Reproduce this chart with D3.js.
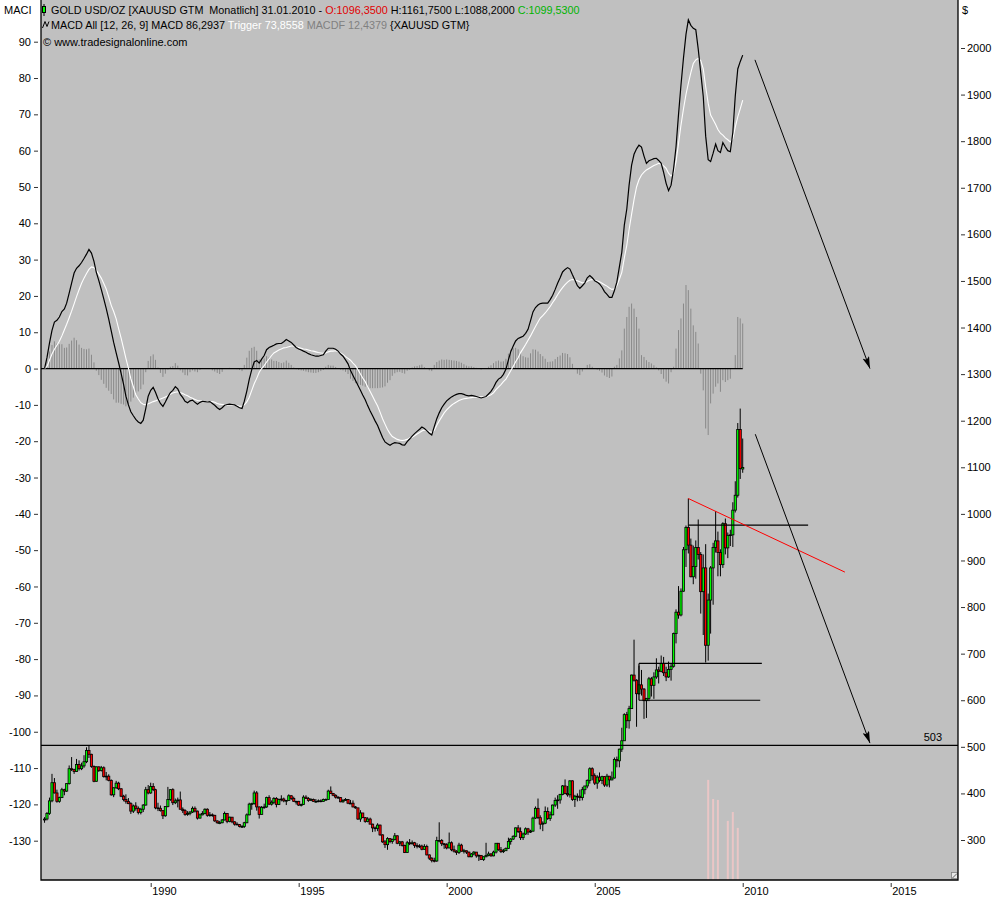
<!DOCTYPE html>
<html>
<head>
<style>
  body { margin: 0; background: #fff; }
  svg text { font-family: "Liberation Sans", Arial, sans-serif; font-size: 11px; fill: #000; }
  .legend text { font-size: 10.8px; }
</style>
</head>
<body>
<script src="https://d3js.org/d3.v7.min.js"></script>
<script>
// monthly candles, Jun 1986 .. Jan 2010 (one row per year)
const open = [
  343,345,357,384,423,401,383,
  391,408,405,421,453,451,447,462,453,459,468,492,
  484,458,426,457,449,455,436,437,428,397,412,422,
  410,394,387,383,378,362,373,368,359,366,375,408,
  401,415,408,369,368,363,352,372,387,408,380,384,
  386,366,363,355,357,360,368,362,347,354,357,366,
  353,354,353,341,337,337,343,357,340,349,339,334,
  333,329,329,337,354,377,378,401,371,355,370,371,
  391,377,381,389,376,387,388,384,385,395,389,383,
  383,375,376,392,389,385,387,383,383,384,383,387,
  387,405,400,396,392,391,382,385,387,379,379,371,
  369,345,358,348,340,345,334,326,325,332,311,296,
  290,303,297,301,309,293,296,288,273,294,292,294,
  288,287,287,280,286,268,261,256,255,299,299,292,
  290,283,294,279,276,273,289,276,277,274,264,270,
  274,266,267,258,264,267,270,266,274,293,279,275,
  277,282,297,302,308,326,318,305,313,324,317,319,
  347,368,348,334,336,361,346,354,375,385,386,398,
  416,400,397,427,387,394,394,391,408,416,428,453,
  438,422,435,428,436,418,437,429,433,473,470,495,
  513,569,556,582,654,643,614,633,624,599,604,646,
  632,650,665,662,679,659,650,666,673,743,789,783,
  834,923,971,933,865,887,928,913,833,884,718,815,
  884,928,942,917,891,979,927,954,955,1008,1040,1181,
  1096.35
];
const high = [
  349,360,391,442,433,408,393,
  412,410,422,460,478,453,474,471,466,482,499,502,
  485,460,458,458,459,458,446,441,430,413,427,425,
  411,397,398,390,381,376,381,372,369,377,414,418,
  423,422,410,380,374,364,373,414,409,411,389,391,
  404,370,366,362,362,372,372,363,357,362,368,368,
  360,357,354,342,341,345,361,358,350,349,340,338,
  334,332,339,357,380,380,406,405,372,373,378,393,
  396,385,392,392,389,396,391,386,398,396,393,384,
  384,378,396,396,392,390,389,388,387,387,389,389,
  408,415,401,398,394,392,388,390,388,386,385,373,
  369,364,358,349,349,348,335,329,336,333,312,300,
  306,304,303,315,310,298,298,290,298,302,299,296,
  293,291,290,291,290,269,263,262,307,338,302,293,
  293,316,297,288,278,294,292,281,277,275,272,276,
  274,269,267,265,294,275,272,277,293,293,285,281,
  284,305,304,310,327,332,327,316,327,326,322,350,
  372,389,353,340,372,370,361,376,391,396,399,418,
  430,416,428,428,397,400,408,414,416,430,456,456,
  443,439,445,438,437,442,437,447,477,479,496,541,
  572,575,588,655,730,645,674,665,626,605,650,650,
  660,690,672,696,693,672,683,678,745,795,845,840,
  929,975,1033,947,932,943,988,918,913,935,829,888,
  938,1006,962,924,982,990,960,966,1025,1070,1195,1226,
  1161.75
];
const low = [
  337,342,354,381,400,380,380,
  390,396,403,419,448,442,446,449,450,455,465,476,
  455,424,425,446,447,434,428,426,395,392,410,407,
  392,383,378,377,356,358,363,355,355,360,374,398,
  399,405,366,362,361,345,350,370,384,375,377,370,
  366,358,352,352,353,358,359,344,346,353,355,350,
  350,350,339,335,334,336,342,336,338,336,331,332,
  327,326,326,336,353,365,376,363,346,354,367,369,
  375,374,377,370,375,383,381,375,384,386,382,376,
  373,372,375,388,382,384,382,380,381,381,382,385,
  387,399,394,389,388,381,380,384,377,378,370,367,
  343,339,347,337,338,334,317,318,319,309,294,283,
  279,293,292,299,291,287,286,272,272,289,290,283,
  282,283,278,279,267,257,252,252,253,295,287,281,
  280,282,276,273,268,270,275,271,270,263,263,267,
  262,255,257,255,263,265,264,265,271,277,272,272,
  277,281,290,300,306,315,300,300,311,311,315,318,
  345,345,323,319,334,343,341,353,371,367,378,396,
  398,393,391,384,371,383,384,385,398,411,421,428,
  418,410,424,420,414,414,413,428,432,456,456,489,
  513,540,539,582,640,543,612,610,560,562,598,608,
  603,646,636,660,652,641,648,642,670,722,775,780,
  833,886,915,864,849,861,902,786,740,681,685,743,
  805,917,866,866,884,913,905,931,929,1003,1035,1075,
  1088.2
];
const close = [
  345,357,384,423,401,383,391,
  408,405,421,453,451,447,462,453,459,468,492,484,
  458,426,457,449,455,436,437,428,397,412,422,410,
  394,387,383,378,362,373,368,359,366,375,408,401,
  415,408,369,368,363,352,372,387,408,380,384,386,
  366,363,355,357,360,368,362,347,354,357,366,353,
  354,353,341,337,337,343,357,340,349,339,334,333,
  329,329,337,354,377,378,401,371,355,370,371,391,
  377,381,389,376,387,388,384,385,395,389,383,383,
  375,376,392,389,385,387,383,383,384,383,387,387,
  405,400,396,392,391,382,385,387,379,379,371,369,
  345,358,348,340,345,334,326,325,332,311,296,290,
  303,297,301,309,293,296,288,273,294,292,294,288,
  287,287,280,286,268,261,256,255,299,299,292,290,
  283,294,279,276,273,289,276,277,274,264,270,274,
  266,267,258,264,267,270,266,274,293,279,275,277,
  282,297,302,308,326,318,305,313,324,317,319,347,
  368,348,334,336,361,346,354,375,385,386,398,416,
  400,397,427,387,394,394,391,408,416,428,453,438,
  422,435,428,436,418,437,429,433,473,470,495,513,
  569,556,582,654,643,614,633,624,599,604,646,632,
  650,665,662,679,659,650,666,673,743,789,783,834,
  923,971,933,865,887,928,913,833,884,718,815,884,
  928,942,917,891,979,927,954,955,1008,1040,1181,1097,
  1099.53
];

// MACD [12, 26, 9]
const macd = [
  0,3,7,10.5,12.8,13.3,14.2,
  15.7,16.4,18.0,20.8,23.5,26.3,27.6,28.3,29.2,30.3,31.5,32.8,
  31.8,29.5,26.5,24.2,21.8,19.2,16.6,13.6,10.4,7.2,4.3,1.6,
  -1.3,-4.4,-7.6,-10.0,-11.9,-13.0,-14.0,-14.7,-15.1,-14.2,-11.0,-7.6,
  -6.0,-5.2,-6.5,-8.3,-9.6,-10.4,-9.2,-7.8,-6.6,-6.0,-5.0,-5.6,
  -7.1,-8.0,-9.0,-9.4,-8.9,-8.7,-9.3,-9.8,-9.3,-9.0,-9.1,-9.2,
  -9.1,-9.6,-10.1,-10.8,-11.3,-10.8,-10.1,-9.9,-9.8,-9.9,-10.0,-10.4,
  -10.8,-11.0,-9.0,-6.2,-3.0,-0.3,1.8,2.2,1.5,2.6,3.6,5.2,
  5.8,6.1,6.4,6.8,6.9,6.9,7.4,8.0,7.6,7.2,6.5,5.8,
  5.4,5.1,4.8,4.5,4.1,3.8,3.6,3.4,3.4,3.6,3.8,4.8,
  5.6,5.6,5.6,5.3,4.8,4.0,3.4,2.4,1.3,-0.5,-1.9,-3.2,
  -4.6,-6.0,-7.3,-8.6,-10.2,-11.7,-13.0,-14.4,-15.7,-17.3,-19.0,-20.2,
  -20.7,-21.1,-20.7,-20.4,-20.5,-20.6,-21.0,-21.1,-20.1,-19.4,-18.6,-17.9,
  -17.3,-16.7,-16.1,-16.5,-17.1,-17.8,-18.3,-16.0,-13.8,-12.2,-10.8,-9.8,
  -8.9,-8.3,-7.8,-7.4,-7.1,-6.9,-6.9,-7.1,-7.4,-7.5,-7.4,-7.5,
  -7.7,-7.9,-8.1,-7.9,-7.7,-7.0,-6.3,-5.2,-3.8,-2.9,-2.5,-1.6,
  -0.2,2.4,4.6,6.2,7.6,8.3,8.6,8.9,9.7,10.8,13.2,15.6,
  16.8,17.5,17.9,18.0,18.0,18.0,19.0,20.2,21.8,23.5,25.0,26.6,
  27.3,27.8,27.4,25.8,24.4,22.8,22.1,22.8,23.6,25.0,25.6,25.0,
  24.2,23.8,23.3,22.4,21.2,20.4,19.6,19.6,21.5,23.8,28.0,32.0,
  39.5,44.0,50.5,56.0,59.0,60.5,61.5,61.0,58.5,56.5,57.2,57.5,
  57.8,57.9,57.3,56.5,54.0,51.0,49.0,50.5,55.0,61.0,70.0,78.0,
  85.5,92.0,96.0,94.5,93.7,93.3,88.0,81.5,75.0,64.0,57.5,57.0,
  59.3,61.8,60.0,59.5,62.2,61.0,60.0,59.7,65.0,75.0,82.5,84.5,
  86.3
];
const trigger = [
  0,0.6,2.3,4.0,5.3,6.4,7.5,
  9.0,10.7,12.2,14.0,15.8,17.8,19.8,21.7,23.5,24.9,26.2,27.3,
  28.0,27.8,27.1,26.0,24.9,23.4,21.9,19.7,17.4,15.7,13.7,11.0,
  8.4,5.5,2.8,0.1,-2.8,-5.0,-7.2,-8.4,-9.4,-9.8,-10.0,-9.7,
  -9.4,-9.1,-8.9,-8.6,-8.4,-8.1,-7.8,-7.5,-7.1,-6.7,-6.5,-6.4,
  -6.6,-6.9,-7.2,-7.5,-7.9,-8.2,-8.5,-8.8,-8.9,-9.0,-9.1,-9.1,
  -9.1,-9.1,-9.3,-9.6,-9.8,-9.9,-10.0,-10.0,-10.0,-10.0,-10.1,-10.2,
  -10.4,-10.3,-10.0,-9.2,-7.9,-6.0,-4.2,-2.7,-1.0,0.0,0.8,1.8,
  2.7,3.6,4.3,4.7,5.1,5.4,5.7,5.8,6.0,6.2,6.2,6.0,
  5.8,5.6,5.4,5.3,5.1,4.9,4.8,4.6,4.4,4.3,4.2,4.3,
  4.6,4.8,4.8,4.9,4.7,4.3,3.9,3.3,2.8,2.3,1.5,0.8,
  -0.3,-1.5,-2.6,-3.6,-5.0,-6.3,-7.6,-9.0,-10.3,-12.0,-13.8,-15.3,
  -16.8,-17.9,-18.7,-19.1,-19.5,-19.7,-19.8,-19.7,-19.5,-19.1,-18.9,-18.5,
  -18.0,-17.6,-17.2,-16.9,-17.0,-17.3,-17.6,-17.0,-15.6,-14.4,-13.3,-12.2,
  -11.4,-10.7,-10.1,-9.6,-9.2,-8.8,-8.5,-8.3,-8.2,-8.1,-8.0,-7.9,
  -7.9,-7.8,-7.8,-7.8,-7.8,-7.5,-7.2,-6.7,-5.8,-5.1,-4.4,-3.6,
  -2.9,-1.7,-0.6,0.6,1.9,3.0,4.4,5.5,6.6,7.8,9.0,10.3,
  11.6,12.8,13.9,14.6,15.3,16.2,17.1,18.2,19.2,20.3,21.4,22.3,
  23.1,23.8,24.3,24.5,24.4,24.2,23.9,23.6,23.6,24.0,24.4,24.5,
  24.3,24.1,23.9,23.5,23.1,22.7,22.2,21.8,22.0,22.8,24.6,26.5,
  30.5,34.0,38.3,42.5,46.5,50.0,52.0,53.3,54.1,54.7,55.1,55.5,
  55.9,56.2,56.5,56.3,55.8,55.1,53.8,53.0,53.8,57.0,62.0,67.0,
  71.5,75.5,78.5,81.5,84.0,85.0,85.4,84.8,82.5,77.6,73.0,69.8,
  68.5,67.2,65.8,64.8,64.3,63.5,63.0,62.4,63.3,66.5,69.3,71.5,
  73.9
];
const macdf = [
  0,2.4,4.7,6.5,7.5,6.9,6.7,
  6.7,5.7,5.8,6.8,7.7,8.5,7.8,6.6,5.7,5.4,5.3,5.5,
  3.8,1.7,-0.6,-1.8,-3.1,-4.2,-5.3,-6.1,-7.0,-8.5,-9.4,-9.4,
  -9.7,-9.9,-10.4,-10.1,-9.1,-8.0,-6.8,-6.3,-5.7,-4.4,-1.0,2.1,
  3.4,3.9,2.4,0.3,-1.2,-2.3,-1.4,-0.3,0.5,0.7,1.5,0.8,
  -0.5,-1.1,-1.8,-1.9,-1.0,-0.5,-0.8,-1.0,-0.4,0,0,-0.1,
  0,-0.5,-0.8,-1.2,-1.5,-0.9,-0.1,0.1,0.2,0.1,0.1,-0.2,
  -0.4,-0.7,1.0,3.0,4.9,5.7,6.0,4.9,2.5,2.6,2.8,3.4,
  3.1,2.5,2.1,2.1,1.8,1.5,1.7,2.2,1.6,1.0,0.3,-0.2,
  -0.4,-0.5,-0.6,-0.8,-1.0,-1.1,-1.2,-1.2,-1.0,-0.7,-0.4,0.5,
  1.0,0.8,0.8,0.4,0.1,-0.3,-0.5,-0.9,-1.5,-2.8,-3.4,-4.0,
  -4.3,-4.5,-4.7,-5.0,-5.2,-5.4,-5.4,-5.4,-5.4,-5.3,-5.2,-4.9,
  -3.9,-3.2,-2.0,-1.3,-1.0,-0.9,-1.2,-1.4,-0.6,-0.3,0.3,0.6,
  0.7,0.9,1.1,0.4,-0.1,-0.5,-0.7,1.0,1.8,2.2,2.5,2.4,
  2.5,2.4,2.3,2.2,2.1,1.9,1.6,1.2,0.8,0.6,0.6,0.4,
  0.2,-0.1,-0.3,-0.1,0.1,0.5,0.9,1.5,2.0,2.2,1.9,2.0,
  2.7,4.1,5.2,5.6,5.7,5.3,4.2,3.4,3.1,3.0,4.2,5.3,
  5.2,4.7,4.0,3.4,2.7,1.8,1.9,2.0,2.6,3.2,3.6,4.3,
  4.2,4.0,3.1,1.3,0,-1.4,-1.8,-0.8,0,1.0,1.2,0.5,
  -0.1,-0.3,-0.6,-1.1,-1.9,-2.3,-2.6,-2.2,0.5,1.0,2.8,5.0,
  11.0,14.2,17.0,17.9,16.5,14.2,11.0,3.7,3.2,2.3,1.8,1.4,
  0.9,0.3,-0.5,-1.5,-2.8,-3.6,-4.1,-1.0,0.5,5.5,10.6,13.8,
  17.9,23.0,21.6,16.5,11.9,10.1,6.9,-1.4,-6.0,-16.5,-18.3,-9.6,
  -6.9,-5.0,-4.1,-6.4,-3.2,-3.7,-3.2,-2.8,0,3.7,14.2,13.8,
  12.4
];

// light bars at the foot of the 2008/09 candles
const pinkMonths = ['2008-11', '2009-01', '2009-03', '2009-07', '2009-09', '2009-11'];
const pinkValues = [429, 388, 386, 341, 360, 326];

const macdTicks = [90, 80, 70, 60, 50, 40, 30, 20, 10, 0, -10, -20, -30, -40, -50, -60, -70, -80, -90, -100, -110, -120, -130];
const priceTicks = [2000, 1900, 1800, 1700, 1600, 1500, 1400, 1300, 1200, 1100, 1000, 900, 800, 700, 600, 500, 400, 300];
const yearTicks = [1990, 1995, 2000, 2005, 2010, 2015];

// drawing tools on the price scale
const supportLevel = 503;
const priceSegments = [
  { from: '2008-03-01', to: '2012-03-18', p1: 976, p2: 976 },
  { from: '2006-07-01', to: '2010-08-25', p1: 679, p2: 679 },
  { from: '2006-07-01', to: '2010-08-05', p1: 600, p2: 600 },
  { from: '2006-07-01', to: '2006-07-01', p1: 600, p2: 679 }
];
const redTrend = { from: '2008-03-01', to: '2013-06-15', p1: 1033, p2: 875 };
const macdArrow = { from: '2010-06-01', to: '2014-04-20', v1: 85, v2: 0 };
const priceArrow = { from: '2010-06-05', to: '2014-04-20', v1: 1171, v2: 508 };

const W = 1000, H = 900;
const plot = { left: 41, right: 958, top: 0, bottom: 880 };
const parseDay = d3.timeParse('%Y-%m-%d');
const parseMonth = d3.timeParse('%Y-%m');

const months = d3.timeMonth.range(new Date(1986, 5, 1), new Date(2010, 1, 1));
const data = months.map((d, i) => ({
  date: d, o: open[i], h: high[i], l: low[i], c: close[i],
  macd: macd[i], trig: trigger[i], hist: macdf[i]
}));

const x = d3.scaleTime()
  .domain([new Date(1990, 0, 1), new Date(2015, 0, 1)])
  .range([150.7, 890.7]);
const yMacd = d3.scaleLinear().domain([-130, 90]).range([840.7, 41.7]);
const yPrice = d3.scaleLinear().domain([300, 2000]).range([840, 48]);

const svg = d3.select('body').append('svg')
  .attr('width', W)
  .attr('height', H);

svg.append('defs').append('clipPath')
  .attr('id', 'clip')
  .append('rect')
  .attr('x', plot.left).attr('y', plot.top)
  .attr('width', plot.right - plot.left).attr('height', plot.bottom - plot.top);

svg.select('defs').append('marker')
  .attr('id', 'arrow')
  .attr('viewBox', '0 0 12 7')
  .attr('refX', 12).attr('refY', 3.5)
  .attr('markerWidth', 12).attr('markerHeight', 7)
  .attr('markerUnits', 'userSpaceOnUse')
  .attr('orient', 'auto')
  .append('path')
  .attr('d', 'M0,0 L12,3.5 L0,7 L2.5,3.5 Z')
  .attr('fill', '#000');

svg.append('rect')
  .attr('x', plot.left).attr('y', plot.top)
  .attr('width', plot.right - plot.left).attr('height', plot.bottom - plot.top)
  .attr('fill', '#c0c0c0');

const g = svg.append('g').attr('clip-path', 'url(#clip)');

// histogram
g.append('g')
  .selectAll('line')
  .data(data)
  .join('line')
  .attr('x1', d => x(d.date)).attr('x2', d => x(d.date))
  .attr('y1', yMacd(0)).attr('y2', d => yMacd(d.hist))
  .attr('stroke', '#888')
  .attr('stroke-width', 1);

g.append('line')
  .attr('x1', plot.left).attr('x2', x(months[months.length - 1]))
  .attr('y1', yMacd(0)).attr('y2', yMacd(0))
  .attr('stroke', '#000')
  .attr('stroke-width', 1.2);

// pink bars
g.append('g')
  .selectAll('line')
  .data(pinkMonths)
  .join('line')
  .attr('x1', d => x(parseMonth(d))).attr('x2', d => x(parseMonth(d)))
  .attr('y1', plot.bottom)
  .attr('y2', (d, i) => yPrice(pinkValues[i]))
  .attr('stroke', '#eac6c6')
  .attr('stroke-width', 2);

// MACD + trigger
g.append('path')
  .datum(data)
  .attr('fill', 'none')
  .attr('stroke', '#fff')
  .attr('stroke-width', 1.1)
  .attr('d', d3.line().x(d => x(d.date)).y(d => yMacd(d.trig)));

g.append('path')
  .datum(data)
  .attr('fill', 'none')
  .attr('stroke', '#000')
  .attr('stroke-width', 1.2)
  .attr('d', d3.line().x(d => x(d.date)).y(d => yMacd(d.macd)));

// candles
const candles = g.append('g');
candles.selectAll('line')
  .data(data)
  .join('line')
  .attr('x1', d => x(d.date)).attr('x2', d => x(d.date))
  .attr('y1', d => yPrice(d.h)).attr('y2', d => yPrice(d.l))
  .attr('stroke', '#000')
  .attr('stroke-width', 1);

candles.selectAll('rect')
  .data(data)
  .join('rect')
  .attr('x', d => x(d.date) - 1.1)
  .attr('width', 2.2)
  .attr('y', d => yPrice(Math.max(d.o, d.c)))
  .attr('height', d => Math.max(0.8, Math.abs(yPrice(d.o) - yPrice(d.c))))
  .attr('fill', d => d.c >= d.o ? '#00ff00' : '#ff0000')
  .attr('stroke', '#000')
  .attr('stroke-width', 0.8);

// drawings
g.append('line')
  .attr('x1', plot.left).attr('x2', plot.right)
  .attr('y1', yPrice(supportLevel)).attr('y2', yPrice(supportLevel))
  .attr('stroke', '#000').attr('stroke-width', 1.2);

g.append('g')
  .selectAll('line')
  .data(priceSegments)
  .join('line')
  .attr('x1', d => x(parseDay(d.from))).attr('x2', d => x(parseDay(d.to)))
  .attr('y1', d => yPrice(d.p1)).attr('y2', d => yPrice(d.p2))
  .attr('stroke', '#000').attr('stroke-width', 1.2);

g.append('line')
  .attr('x1', x(parseDay(redTrend.from))).attr('x2', x(parseDay(redTrend.to)))
  .attr('y1', yPrice(redTrend.p1)).attr('y2', yPrice(redTrend.p2))
  .attr('stroke', '#ff0000').attr('stroke-width', 1);

g.append('line')
  .attr('x1', x(parseDay(macdArrow.from))).attr('x2', x(parseDay(macdArrow.to)))
  .attr('y1', yMacd(macdArrow.v1)).attr('y2', yMacd(macdArrow.v2))
  .attr('stroke', '#000').attr('stroke-width', 1)
  .attr('marker-end', 'url(#arrow)');

g.append('line')
  .attr('x1', x(parseDay(priceArrow.from))).attr('x2', x(parseDay(priceArrow.to)))
  .attr('y1', yPrice(priceArrow.v1)).attr('y2', yPrice(priceArrow.v2))
  .attr('stroke', '#000').attr('stroke-width', 1)
  .attr('marker-end', 'url(#arrow)');

svg.append('text')
  .attr('x', 942).attr('y', yPrice(supportLevel) - 4)
  .attr('text-anchor', 'end')
  .text(supportLevel);

// resize corner
svg.append('rect')
  .attr('x', 951.5).attr('y', 872.5).attr('width', 6).attr('height', 6)
  .attr('fill', '#e8e8e8').attr('stroke', '#808080').attr('stroke-width', 0.8);
svg.append('line')
  .attr('x1', 952.5).attr('y1', 878).attr('x2', 957).attr('y2', 873.5)
  .attr('stroke', '#404040').attr('stroke-width', 0.8);

// frame
svg.append('path')
  .attr('d', `M${plot.left},${plot.top} V${plot.bottom} H${plot.right} V${plot.top}`)
  .attr('fill', 'none')
  .attr('stroke', '#000')
  .attr('stroke-width', 1.3);

// axes (plain hyphen minus like the original)
const plain = d => String(d);

const leftAxis = svg.append('g')
  .attr('transform', `translate(${plot.left},0)`)
  .call(d3.axisLeft(yMacd).tickValues(macdTicks).tickFormat(plain).tickSize(0).tickPadding(10));
leftAxis.select('.domain').remove();
leftAxis.selectAll('.tick line').attr('x1', -3).attr('x2', -7).attr('stroke', '#333');
leftAxis.selectAll('.tick text').style('font-family', '"Liberation Sans", Arial, sans-serif').style('font-size', '11px');

const rightAxis = svg.append('g')
  .attr('transform', `translate(${plot.right},0)`)
  .call(d3.axisRight(yPrice).tickValues(priceTicks).tickFormat(plain).tickSize(0).tickPadding(9));
rightAxis.select('.domain').remove();
rightAxis.selectAll('.tick line').attr('x1', 3).attr('x2', 7).attr('stroke', '#333');
rightAxis.selectAll('.tick text').style('font-family', '"Liberation Sans", Arial, sans-serif').style('font-size', '11px');

const bottomAxis = svg.append('g')
  .attr('transform', `translate(0,${plot.bottom})`)
  .call(d3.axisBottom(x).tickValues(yearTicks.map(y => new Date(y, 0, 1))).tickFormat(d3.timeFormat('%Y')).tickSize(0).tickPadding(0));
bottomAxis.select('.domain').remove();
bottomAxis.selectAll('.tick line').attr('y1', 3).attr('y2', 7).attr('stroke', '#333');
bottomAxis.selectAll('.tick text')
  .attr('text-anchor', 'start')
  .attr('dx', 1)
  .attr('y', 15)
  .attr('dy', 0)
  .style('font-family', '"Liberation Sans", Arial, sans-serif').style('font-size', '11px');

svg.append('text').attr('x', 4).attr('y', 14).text('MACI');
svg.append('text').attr('x', 962).attr('y', 14).text('$');

// legend
const legend = svg.append('g').attr('class', 'legend');

legend.append('line')
  .attr('x1', 44).attr('x2', 44).attr('y1', 4).attr('y2', 16)
  .attr('stroke', '#000');
legend.append('rect')
  .attr('x', 42.5).attr('y', 6.5).attr('width', 3).attr('height', 6)
  .attr('fill', '#00ff00').attr('stroke', '#000');

const line1 = legend.append('text').attr('x', 51).attr('y', 14);
line1.append('tspan').text('GOLD USD/OZ [XAUUSD GTM  Monatlich] 31.01.2010 - ');
line1.append('tspan').style('fill', '#e00000').text('O:1096,3500');
line1.append('tspan').text(' H:1161,7500 L:1088,2000 ');
line1.append('tspan').style('fill', '#00b400').text('C:1099,5300');
line1.attr('xml:space', 'preserve');

legend.append('path')
  .attr('d', 'M42.5,28 L45,21.5 L47,26.5 L49,21.5')
  .attr('fill', 'none').attr('stroke', '#000').attr('stroke-width', 1);

const line2 = legend.append('text').attr('x', 51).attr('y', 29);
line2.append('tspan').text('MACD All [12, 26, 9] MACD 86,2937 ');
line2.append('tspan').style('fill', '#fff').text('Trigger 73,8558 ');
line2.append('tspan').style('fill', '#808080').text('MACDF 12,4379 ');
line2.append('tspan').text('{XAUUSD GTM}');

legend.append('text').attr('x', 43).attr('y', 45.5)
  .style('font-size', '11px')
  .text('© www.tradesignalonline.com');
</script>
</body>
</html>
